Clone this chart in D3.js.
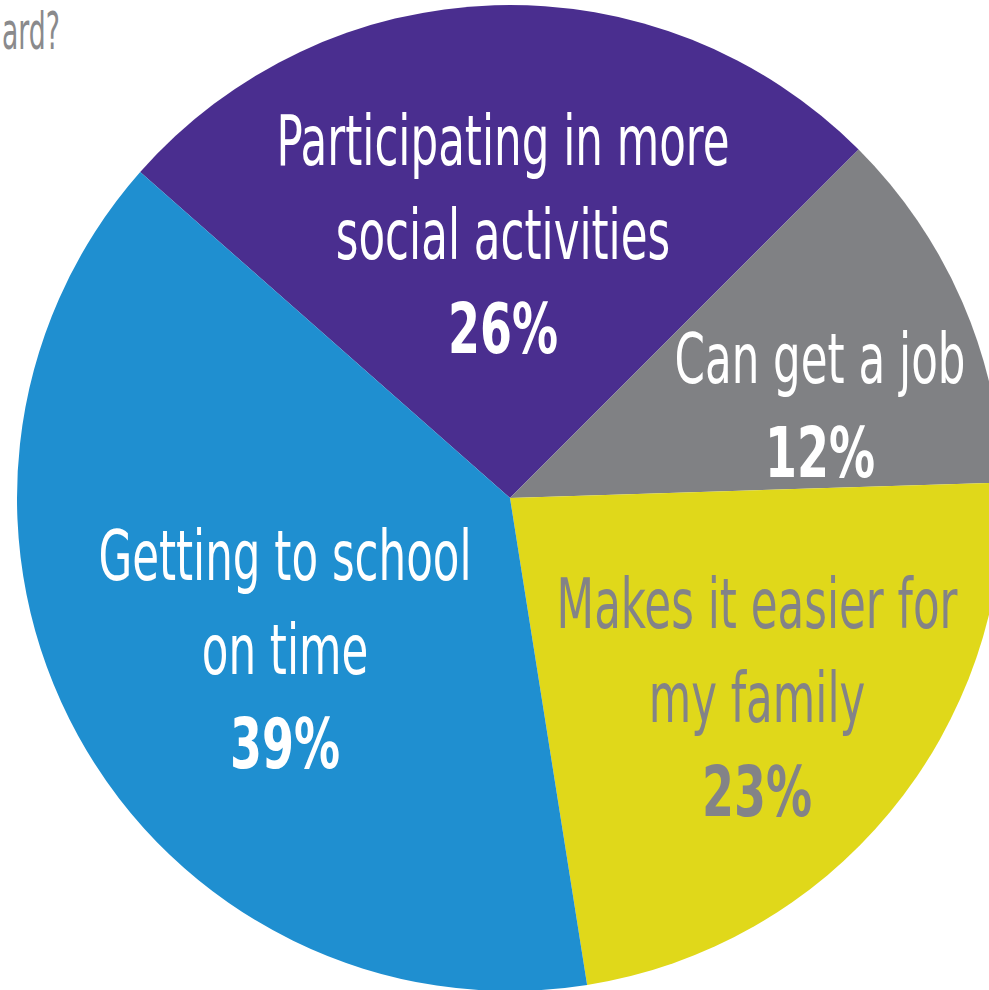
<!DOCTYPE html>
<html>
<head>
<meta charset="utf-8">
<script src="https://cdn.jsdelivr.net/npm/d3@7"></script>
<style>
html,body{margin:0;padding:0;background:#fff;overflow:hidden;}
svg{display:block;}
</style>
</head>
<body>
<svg id="chart" width="989" height="990"></svg>
<script>
// ---- data ----
const categories = ["Participating in more social activities", "Can get a job", "Makes it easier for my family", "Getting to school on time"];
const labelLines = [["Participating in more", "social activities"], ["Can get a job"], ["Makes it easier for", "my family"], ["Getting to school", "on time"]];
const values = [26, 12, 23, 39];
const valueLabels = ["26%", "12%", "23%", "39%"];
const colors = ["#4a2e8f", "#808184", "#e0d81a", "#1f8fd0"];
const textColors = ["#ffffff", "#ffffff", "#838387", "#ffffff"];
const titleText = "ard?";

// ---- layout ----
const W = 989, H = 990;
const cx = 510, cy = 498, R = 493;
const startDeg = -48.6;
const fontFamily = "'Liberation Sans Narrow','Arial Narrow','DejaVu Sans Condensed','Roboto Condensed',sans-serif";
const fontSize = 70;
const lineGap = 94;
// label block anchors relative to pie centre
const labelOffsets = [[-7, -264], [310, -93], [247, 199], [-225, 151]];

const svg = d3.select("#chart");

function measure(txt, weight, size) {
  const t = svg.append("text").attr("font-family", fontFamily)
    .attr("font-size", size || fontSize).attr("font-weight", weight).text(txt);
  const w = t.node().getComputedTextLength();
  t.remove();
  return w;
}
const kReg = 453 / measure("Participating in more", "normal");
const kBold = 110 / measure("26%", "bold");

// title fragment (cut off at left edge in the original)
const titleSize = 52;
const kTitle = 58 / measure(titleText, "normal", titleSize);
svg.append("text")
  .attr("transform", `translate(2,49) scale(${kTitle},1)`)
  .attr("text-anchor", "start")
  .attr("font-family", fontFamily)
  .attr("font-size", titleSize)
  .attr("fill", "#8a8a8c")
  .text(titleText);

const pie = d3.pie().sort(null)
  .startAngle(startDeg * Math.PI / 180)
  .endAngle(startDeg * Math.PI / 180 + 2 * Math.PI);
const arcs = pie(values);
const arc = d3.arc().innerRadius(0).outerRadius(R);

const g = svg.append("g").attr("transform", `translate(${cx},${cy})`);
g.selectAll("path.slice").data(arcs).join("path")
  .attr("class", "slice")
  .attr("d", arc)
  .attr("fill", (d, i) => colors[i]);

arcs.forEach((d, i) => {
  const lines = labelLines[i].map(s => ({ s, bold: false })).concat([{ s: valueLabels[i], bold: true }]);
  const n = lines.length;
  const ax = labelOffsets[i][0], ay = labelOffsets[i][1];
  lines.forEach((ln, j) => {
    const by = ay + (j - (n - 1) / 2) * lineGap + 25;
    const k = ln.bold ? kBold : kReg;
    g.append("text")
      .attr("transform", `translate(${ax},${by}) scale(${k},1)`)
      .attr("text-anchor", "middle")
      .attr("font-family", fontFamily)
      .attr("font-size", fontSize)
      .attr("font-weight", ln.bold ? "bold" : "normal")
      .attr("fill", textColors[i])
      .text(ln.s);
  });
});
</script>
</body>
</html>
